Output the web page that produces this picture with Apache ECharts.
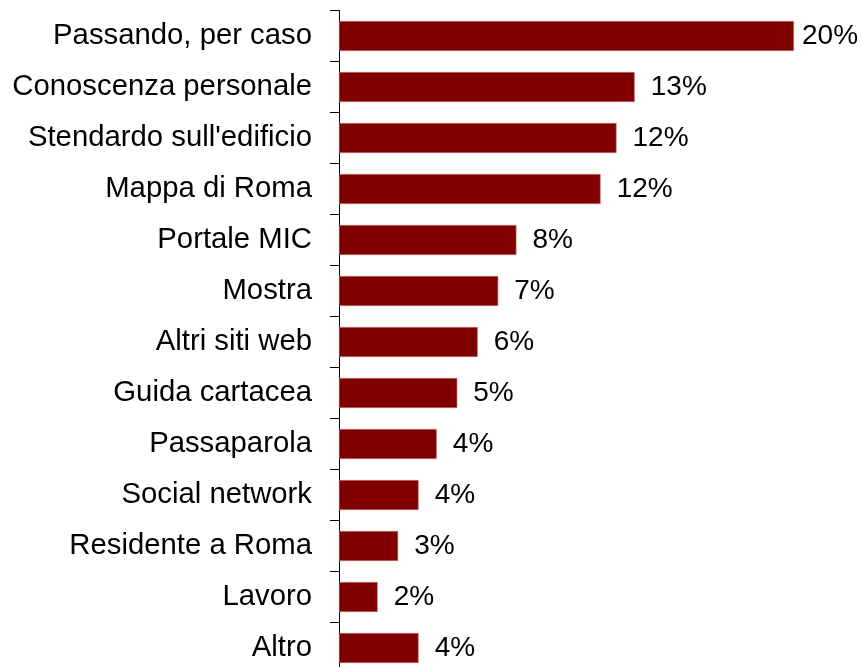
<!DOCTYPE html>
<html>
<head>
<meta charset="utf-8">
<script src="https://cdn.jsdelivr.net/npm/echarts@6/dist/echarts.min.js"></script>
<style>
  html, body { margin: 0; padding: 0; background: #fff; overflow: hidden; }
  #chart { width: 862px; height: 680px; }
</style>
</head>
<body>
<div id="chart"></div>
<script>
// How visitors learned about the site (share of responses, %)
const categories = [
  'Passando, per caso',
  'Conoscenza personale',
  "Stendardo sull'edificio",
  'Mappa di Roma',
  'Portale MIC',
  'Mostra',
  'Altri siti web',
  'Guida cartacea',
  'Passaparola',
  'Social network',
  'Residente a Roma',
  'Lavoro',
  'Altro'
];
const shares = [20.0, 13.0, 12.2, 11.5, 7.8, 7.0, 6.1, 5.2, 4.3, 3.5, 2.6, 1.7, 3.5];

const chart = echarts.init(document.getElementById('chart'), null, { renderer: 'canvas' });

const FONT = '"Liberation Sans", Arial, sans-serif';

chart.setOption({
  animation: false,
  grid: { left: 339, right: 68, top: 10.5, height: 663, containLabel: false },
  xAxis: {
    type: 'value',
    min: 0,
    max: 20,
    show: false
  },
  yAxis: {
    type: 'category',
    inverse: true,
    data: categories,
    axisLine: { show: true, lineStyle: { color: '#000', width: 1 } },
    axisTick: { show: true, length: 9, lineStyle: { color: '#000', width: 1 } },
    axisLabel: {
      color: '#000',
      fontFamily: FONT,
      fontSize: 29.3,
      margin: 27
    },
    splitLine: { show: false }
  },
  series: [{
    type: 'bar',
    data: shares.map((v, i) => ({
      value: v,
      label: { distance: i === 0 ? 8 : 16 }
    })),
    barWidth: 30,
    itemStyle: { color: '#800000', borderColor: '#c98080', borderWidth: 0.6 },
    label: {
      show: true,
      position: 'right',
      color: '#000',
      fontFamily: FONT,
      fontSize: 28,
      formatter: p => Math.round(p.value) + '%'
    }
  }]
});
</script>
</body>
</html>
